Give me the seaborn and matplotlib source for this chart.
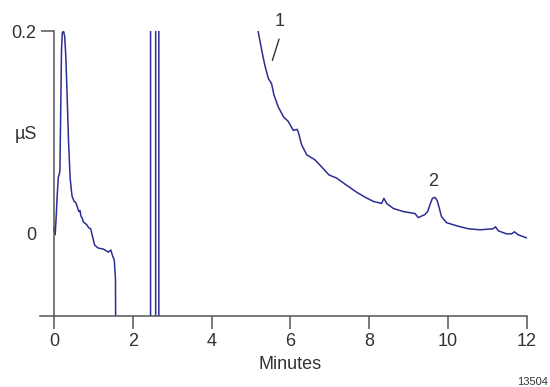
import matplotlib
matplotlib.use("Agg")
import matplotlib.pyplot as plt
import seaborn as sns
import pandas as pd

# ---- data ----
t_left = [0.00, 0.03, 0.06, 0.08, 0.11, 0.13, 0.15, 0.17, 0.19, 0.21, 0.24, 0.27,
          0.30, 0.33, 0.37, 0.41, 0.44, 0.46, 0.51, 0.55, 0.58, 0.63, 0.66, 0.68,
          0.72, 0.74, 0.80, 0.83, 0.88, 0.93, 0.98, 1.03, 1.12, 1.25, 1.38, 1.44,
          1.49, 1.53, 1.56, 1.58]
v_left = [0.006, -0.001, 0.020, 0.037, 0.056, 0.058, 0.062, 0.120, 0.180, 0.198,
          0.200, 0.195, 0.175, 0.140, 0.090, 0.055, 0.043, 0.037, 0.032, 0.031,
          0.028, 0.022, 0.023, 0.018, 0.015, 0.012, 0.010, 0.009, 0.006, 0.005,
          -0.003, -0.011, -0.014, -0.015, -0.018, -0.016, -0.022, -0.026, -0.045, -0.30]

# off-scale excursions (system peak region)
t_off = [2.45, 2.45, 2.58, 2.58, 2.66, 2.66, 5.17]
v_off = [-0.30, 0.50, 0.50, -0.30, -0.30, 0.50, 0.25]

t_right = [5.18, 5.27, 5.35, 5.44, 5.52, 5.58, 5.69, 5.83, 5.94, 6.07, 6.17, 6.20,
           6.28, 6.41, 6.62, 6.79, 6.98, 7.17, 7.42, 7.68, 7.90, 8.10, 8.31, 8.37,
           8.44, 8.61, 8.86, 9.16, 9.24, 9.41, 9.48, 9.54, 9.60, 9.66, 9.72, 9.77,
           9.83, 9.96, 10.21, 10.51, 10.81, 11.14, 11.20, 11.27, 11.48, 11.61, 11.68,
           11.78, 11.99]
v_right = [0.1995, 0.181, 0.166, 0.153, 0.148, 0.137, 0.125, 0.115, 0.111, 0.102,
           0.103, 0.100, 0.088, 0.078, 0.073, 0.066, 0.058, 0.055, 0.048, 0.041,
           0.036, 0.032, 0.030, 0.035, 0.030, 0.025, 0.022, 0.020, 0.016, 0.019,
           0.022, 0.029, 0.035, 0.036, 0.033, 0.026, 0.017, 0.011, 0.008, 0.005,
           0.004, 0.005, 0.007, 0.003, 0.000, 0.000, 0.002, -0.001, -0.004]

x_ticks = [0, 2, 4, 6, 8, 10, 12]
y_ticks = [0, 0.1, 0.2]
y_tick_labels = ["0", "µS", "0.2"]
peak_labels = ["1", "2"]
peak_pos = [(5.73, 0.209), (9.62, 0.052)]

df = pd.DataFrame({"Minutes": t_left + t_off + t_right,
                   "uS": v_left + v_off + v_right})

sns.set_style("white")
plt.rcParams["font.family"] = ["Liberation Sans Narrow", "Liberation Sans", "DejaVu Sans"]

W, H = 550, 387
fig = plt.figure(figsize=(W / 100, H / 100), dpi=100)
ax = fig.add_axes([40 / W, 1 - 316 / H, (527 - 40) / W, (316 - 31) / H])

line_col = "#2b2e93"
axis_col = "#555555"
text_col = "#333333"

sns.lineplot(data=df, x="Minutes", y="uS", estimator=None, sort=False,
             color=line_col, lw=1.1, ax=ax)

ax.set_xlim(-0.355, 12)
ax.set_ylim(-0.081, 0.2)

for s in ["top", "right"]:
    ax.spines[s].set_visible(False)
ax.spines["left"].set_position(("data", 0))
for s in ["left", "bottom"]:
    ax.spines[s].set_color(axis_col)
    ax.spines[s].set_linewidth(1.1)

ax.set_xticks(x_ticks)
ax.set_xticklabels([str(v) for v in x_ticks])
ax.set_yticks(y_ticks)
ax.set_yticklabels(y_tick_labels)
ax.tick_params(axis="both", direction="out", length=9.5, width=1.1,
               color=axis_col, labelcolor=text_col, labelsize=13, pad=3)
ax.tick_params(axis="x", bottom=True)
ax.tick_params(axis="y", left=True)
ticks = ax.yaxis.get_major_ticks()
ticks[0].tick1line.set_visible(False)
ticks[1].tick1line.set_visible(False)

ax.set_ylabel("")
ax.set_xlabel("Minutes", fontsize=13, color=text_col)
ax.xaxis.set_label_coords((6 + 0.355) / 12.355, -0.14)

for lab, (px, py) in zip(peak_labels, peak_pos):
    ax.text(px, py, lab, ha="center", va="center", fontsize=13,
            color=text_col, clip_on=False)
ax.plot([5.71, 5.54], [0.192, 0.171], color=text_col, lw=1.0, clip_on=False)

fig.text(548 / W, 1 - 382 / H, "13504", ha="right", va="center",
         fontsize=8, color=text_col)

fig.savefig("out.png", dpi=100)
